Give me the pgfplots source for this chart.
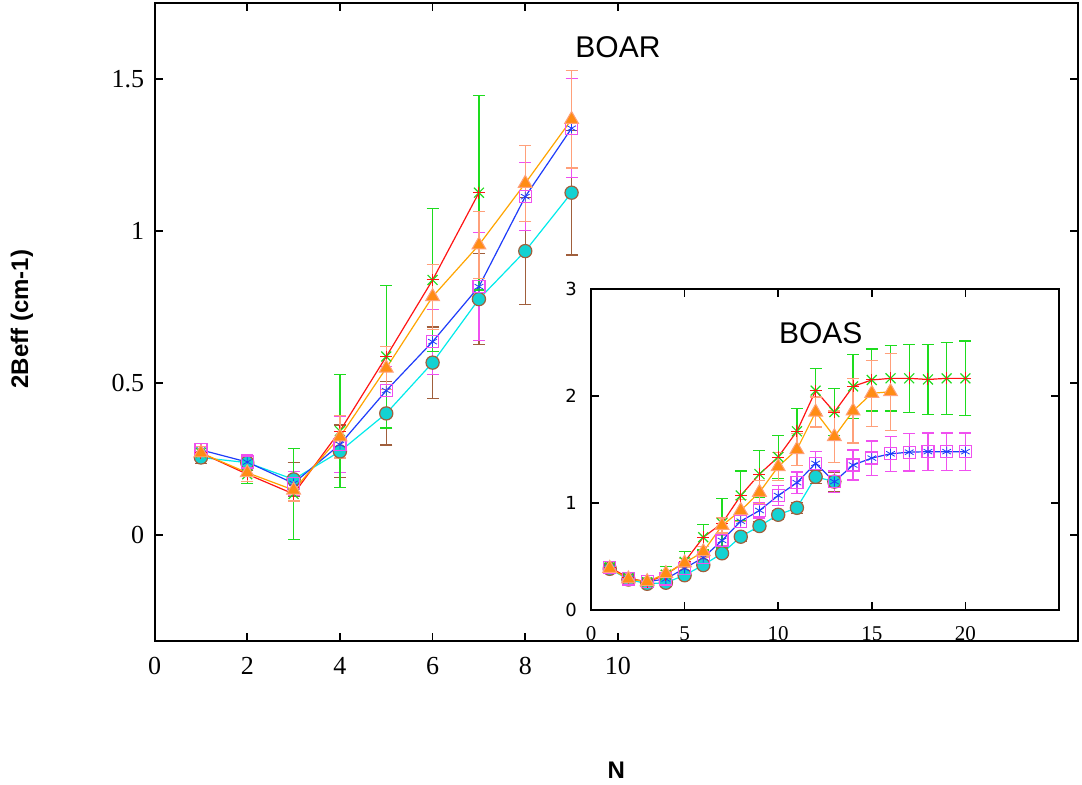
\documentclass[border=0pt]{standalone}
\usepackage{fontspec}
\setmainfont{Liberation Serif}
\newfontfamily\arial{Liberation Sans}
\newfontfamily\dejavu{DejaVu Sans}
\usepackage{pgfplots}
\usepackage{pgfplotstable}
\pgfplotsset{compat=1.18}

\definecolor{gerr}{RGB}{30,220,30}
\definecolor{rline}{RGB}{255,20,20}
\definecolor{oline}{RGB}{255,165,0}
\definecolor{ofill}{RGB}{255,140,20}
\definecolor{salm}{RGB}{255,160,122}
\definecolor{magn}{RGB}{240,80,240}
\definecolor{bline}{RGB}{30,60,250}
\definecolor{cline}{RGB}{0,235,235}
\definecolor{cfill}{RGB}{20,210,210}
\definecolor{brn}{RGB}{160,95,60}

% BOAR (main): N, value, error
\pgfplotstableread{
1 0.270 0.020
2 0.200 0.030
3 0.135 0.150
4 0.342 0.185
5 0.587 0.235
6 0.839 0.236
7 1.126 0.320
}\boarA
\pgfplotstableread{
1 0.270 0.020
2 0.205 0.030
3 0.148 0.036
4 0.323 0.070
5 0.549 0.070
6 0.784 0.107
7 0.954 0.110
8 1.157 0.125
9 1.367 0.160
}\boarB
\pgfplotstableread{
1 0.280 0.020
2 0.240 0.025
3 0.170 0.040
4 0.298 0.093
5 0.475 0.080
6 0.636 0.107
7 0.817 0.178
8 1.113 0.112
9 1.338 0.163
}\boarC
\pgfplotstableread{
1 0.255 0.020
2 0.238 0.025
3 0.183 0.055
4 0.275 0.087
5 0.400 0.104
6 0.567 0.117
7 0.776 0.150
8 0.934 0.177
9 1.126 0.205
}\boarD

% BOAS (inset)
\pgfplotstableread{
1 0.400 0.030
2 0.300 0.030
3 0.260 0.030
4 0.330 0.075
5 0.450 0.100
6 0.680 0.120
7 0.810 0.230
8 1.070 0.230
9 1.270 0.220
10 1.430 0.200
11 1.670 0.210
12 2.050 0.210
13 1.850 0.220
14 2.090 0.300
15 2.150 0.290
16 2.165 0.305
17 2.165 0.320
18 2.155 0.330
19 2.165 0.335
20 2.165 0.350
}\boasA
\pgfplotstableread{
1 0.390 0.020
2 0.290 0.020
3 0.265 0.020
4 0.340 0.030
5 0.440 0.040
6 0.545 0.050
7 0.790 0.070
8 0.930 0.100
9 1.100 0.110
10 1.340 0.130
11 1.500 0.150
12 1.850 0.140
13 1.620 0.240
14 1.860 0.300
15 2.025 0.310
16 2.040 0.360
}\boasB
\pgfplotstableread{
1 0.400 0.030
2 0.290 0.020
3 0.265 0.020
4 0.290 0.030
5 0.390 0.030
6 0.490 0.040
7 0.650 0.050
8 0.830 0.060
9 0.930 0.070
10 1.070 0.090
11 1.190 0.100
12 1.370 0.110
13 1.200 0.100
14 1.355 0.140
15 1.420 0.160
16 1.460 0.165
17 1.475 0.175
18 1.480 0.175
19 1.480 0.175
20 1.480 0.175
}\boasC
\pgfplotstableread{
1 0.385 0.020
2 0.285 0.020
3 0.245 0.020
4 0.255 0.030
5 0.325 0.030
6 0.420 0.030
7 0.530 0.040
8 0.685 0.040
9 0.785 0.040
10 0.890 0.040
11 0.955 0.050
12 1.245 0.060
13 1.200 0.090
}\boasD

\pgfplotsset{
  errp/.style={only marks,
    error bars/y dir=both, error bars/y explicit,
    error bars/error bar style={#1, line width=0.6pt},
    error bars/error mark options={rotate=90, #1, mark size=3pt, line width=0.6pt}},
  frame/.style={scale only axis, tick align=inside, major tick length=4pt,
    axis line style={line width=1pt}, tick style={line width=0.8pt, black},
    clip=false, axis background/.style={fill=white},
    /pgf/number format/assume math mode=true},
}

% #1..#4: tables of the four series
\newcommand\drawset[4]{%
  \addplot[cline, line width=0.6pt] table[x index=0, y index=1] {#4};
  \addplot[errp=brn, mark=*, mark size=3.3pt, mark options={fill=cfill, draw=brn, line width=0.6pt}]
    table[x index=0, y index=1, y error index=2] {#4};
  \addplot[errp=magn, mark=square, mark size=3pt, mark options={draw=magn, line width=0.6pt}]
    table[x index=0, y index=1, y error index=2] {#3};
  \addplot[bline, line width=0.6pt, mark=asterisk, mark size=2.5pt, mark options={line width=0.4pt}]
    table[x index=0, y index=1] {#3};
  \addplot[errp=gerr, mark=x, mark size=3.5pt, mark options={draw=gerr, line width=0.6pt}]
    table[x index=0, y index=1, y error index=2] {#1};
  \addplot[rline, line width=0.6pt, mark=+, mark size=3pt, mark options={line width=0.5pt}]
    table[x index=0, y index=1] {#1};
  \addplot[oline, line width=0.6pt] table[x index=0, y index=1] {#2};
  \addplot[errp=salm, mark=triangle*, mark size=4pt, mark options={fill=ofill, draw=salm, line width=0.5pt}]
    table[x index=0, y index=1, y error index=2] {#2};
}

\begin{document}
\begin{tikzpicture}
\path[use as bounding box] (-77.3pt,-71.3pt) rectangle (463.7pt,320.7pt);

\begin{axis}[frame,
  at={(0,0)}, anchor=south west,
  width=461.7pt, height=319.2pt,
  xmin=0, xmax=19.93, ymin=-0.35, ymax=1.75,
  xtick={0,2,...,10}, ytick={0,0.5,1,1.5},
  xticklabel style={font=\fontsize{13}{15}\selectfont, yshift=-4.5pt},
  yticklabel style={font=\fontsize{13}{15}\selectfont, xshift=-1.7pt},
  xlabel={\arial\bfseries N},
  xlabel style={font=\fontsize{12}{14}\selectfont, at={(axis description cs:0.5,-0.202)}, anchor=center},
  ylabel={\arial\bfseries 2Beff (cm-1)},
  ylabel style={font=\fontsize{12}{14}\selectfont, at={(axis description cs:-0.1436,0.505)}, anchor=center},
]
\drawset{\boarA}{\boarB}{\boarC}{\boarD}
\node[font=\arial\fontsize{15}{17}\selectfont] at (axis cs:10,1.605) {BOAR};
\end{axis}

\begin{axis}[frame,
  at={(218.2pt,15.7pt)}, anchor=south west,
  width=234pt, height=160.5pt,
  xmin=0, xmax=25, ymin=0, ymax=3,
  xtick={0,5,...,20}, ytick={0,1,2,3},
  xticklabel style={font=\fontsize{10.5}{12}\selectfont, yshift=-4.8pt},
  yticklabel style={font=\dejavu\fontsize{9}{11}\selectfont, xshift=-3.5pt},
]
\drawset{\boasA}{\boasB}{\boasC}{\boasD}
\node[font=\arial\fontsize{15}{17}\selectfont] at (axis cs:12.27,2.59) {BOAS};
\end{axis}
\end{tikzpicture}
\end{document}
